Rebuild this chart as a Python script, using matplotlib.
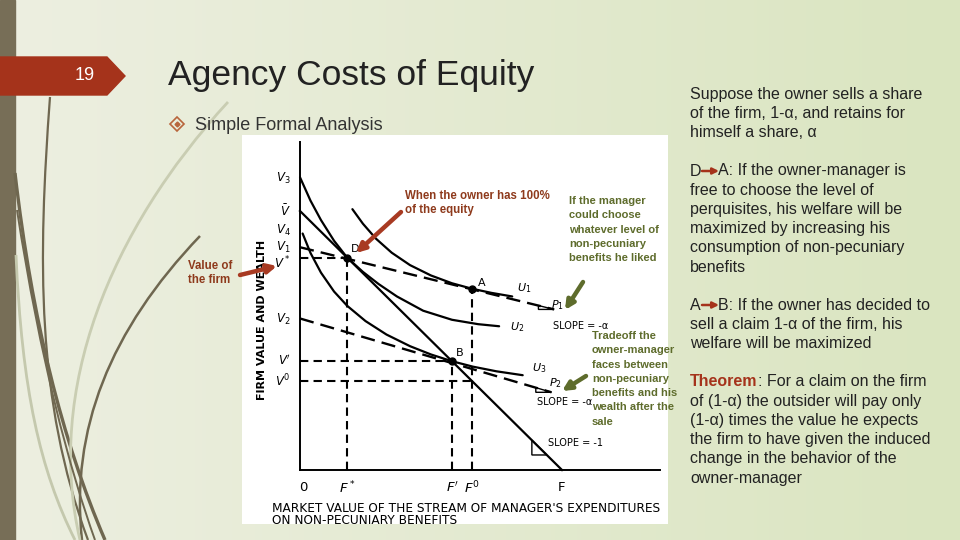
import numpy as np
import matplotlib.pyplot as plt
from matplotlib.path import Path
from matplotlib.patches import PathPatch, Polygon, Rectangle

plt.rcParams['font.family'] = ['Liberation Sans', 'DejaVu Sans']
plt.rcParams['mathtext.fontset'] = 'dejavusans'

# ---- chart data (x: perquisites F, y: firm value V) ----
v_labels = [r'$V_3$', r'$\bar{V}$', r'$V_4$', r'$V_1$', r'$V^*$', r'$V_2$', r"$V'$", r'$V^0$']
v_values = [112.7, 100, 91.5, 86, 82, 58, 42, 34.4]
f_labels = ['0', r'$F^*$', r"$F'$", r'$F^0$', 'F']
f_values = [0, 18, 58, 65.6, 100]

budget_x = [0, 100]          # V-bar to F, slope -1
budget_y = [100, 0]
p1_x = [0, 97]               # slope -alpha through D and A
p1_y = [86, 62]
p2_x = [0, 96]               # slope -alpha through B
p2_y = [58.5, 30]

u1_x = [20, 24, 29, 35, 42, 50, 58, 65.6, 73, 81]
u1_y = [100.7, 95.1, 89.3, 83.9, 79.1, 75.1, 72.1, 70, 68.4, 67.0]
u2_x = [0, 4, 8, 13, 18, 24, 30, 37, 47, 58, 68, 76]
u2_y = [113, 104, 96.5, 88.5, 82, 76.5, 71.8, 67, 61.5, 58, 56.3, 55.5]
u3_x = [1, 4, 8, 13, 18, 25, 33, 42, 50, 58, 66, 75, 85]
u3_y = [91.3, 83.8, 76.2, 68.9, 63.4, 57.5, 52.3, 47.8, 44.6, 42, 39.9, 38.1, 36.6]

point_names = ['D', 'A', 'B']
point_x = [18, 65.6, 58]
point_y = [82, 70, 42]

# ---- slide text ----
title = 'Agency Costs of Equity'
subtitle = 'Simple Formal Analysis'
para1 = ['Suppose the owner sells a share', 'of the firm, 1-\u03b1, and retains for',
         'himself a share, \u03b1']
para2 = ['A: If the owner-manager is', 'free to choose the level of',
         'perquisites, his welfare will be', 'maximized by increasing his',
         'consumption of non-pecuniary', 'benefits']
para3 = ['B: If the owner has decided to', 'sell a claim 1-\u03b1 of the firm, his',
         'welfare will be maximized']
para4 = [': For a claim on the firm', 'of (1-\u03b1) the outsider will pay only',
         '(1-\u03b1) times the value he expects', 'the firm to have given the induced',
         'change in the behavior of the', 'owner-manager']
note_owner = ['When the owner has 100%', 'of the equity']
note_value = ['Value of', 'the firm']
note_choose = ['If the manager', 'could choose', 'whatever level of',
               'non-pecuniary', 'benefits he liked']
note_trade = ['Tradeoff the', 'owner-manager', 'faces between', 'non-pecuniary',
              'benefits and his', 'wealth after the', 'sale']

RED = '#a5331b'
BROWN = '#8e3a1c'
GREEN = '#5e6c2c'
DARK = '#222222'
OLIVE = '#776e57'

fig = plt.figure(figsize=(9.6, 5.4), dpi=100)

# background axes in pixel units
bg = fig.add_axes([0, 0, 1, 1])
bg.set_xlim(0, 960)
bg.set_ylim(540, 0)
bg.axis('off')
t = np.linspace(0, 1, 256)
c0 = np.array([237, 239, 225]) / 255
c1 = np.array([218, 229, 192]) / 255
img = c0[None, :] * (1 - t[:, None]) + c1[None, :] * t[:, None]
bg.imshow(img[None, :, :], extent=(0, 960, 540, 0), aspect='auto', zorder=0)

bg.add_patch(Rectangle((0, 0), 15, 540, color=OLIVE, zorder=1))

# decorative swooshes on the left
swooshes = [
    ([(15, 173), (32, 320), (62, 440), (105, 540)], '#6f6750', 2.4),
    ([(50, 97), (38, 260), (36, 400), (88, 540)], '#6f6750', 1.6),
    ([(200, 236), (110, 330), (70, 430), (82, 540)], '#6f6750', 1.8),
    ([(228, 102), (110, 230), (45, 390), (80, 540)], '#c9cdb2', 2.0),
    ([(16, 255), (22, 390), (40, 470), (75, 540)], '#c4c8ad', 2.0),
    ([(17, 210), (40, 360), (70, 470), (95, 540)], '#6f6750', 1.4),
]
for pts, col, lw in swooshes:
    path = Path(pts, [Path.MOVETO, Path.CURVE4, Path.CURVE4, Path.CURVE4])
    bg.add_patch(PathPatch(path, fc='none', ec=col, lw=lw, zorder=2))

# slide number tab
bg.add_patch(Polygon([(0, 57), (107, 57), (125, 76), (107, 95), (0, 95)],
                     closed=True, color=RED, zorder=3))
bg.text(85, 76, '19', color='white', fontsize=13, ha='center', va='center', zorder=4)

bg.text(168, 76, title, fontsize=25.5, color=DARK, va='center', zorder=4)
bg.plot([177], [124], marker='D', ms=7, mfc='none', mec='#b8653c', mew=1.2, zorder=4)
bg.plot([177], [124], marker='D', ms=2.5, mfc='#b8653c', mec='#b8653c', zorder=4)
bg.text(195, 125, subtitle, fontsize=13, color='#333333', va='center', zorder=4)

# white panel that holds the scanned figure
bg.add_patch(Rectangle((242, 135), 426, 389, fc='white', ec='none', zorder=3))

# ---- chart axes over the panel ----
ax = fig.add_axes([242 / 960, 16 / 540, 426 / 960, 389 / 540])
ax.set_xlim(-22.14, 140.46)
ax.set_ylim(-20.85, 129.34)
ax.axis('off')

y_axis_top = 126.6
x_axis_end = 137.4
ax.plot([0, 0], [0, y_axis_top], color='black', lw=1.4)
ax.plot([0, x_axis_end], [0, 0], color='black', lw=1.4)

ax.plot(budget_x, budget_y, color='black', lw=1.6)
ax.plot(p1_x, p1_y, color='black', lw=1.7, ls=(0, (6, 3)))
ax.plot(p2_x, p2_y, color='black', lw=1.7, ls=(0, (6, 3)))
for ux, uy in [(u1_x, u1_y), (u2_x, u2_y), (u3_x, u3_y)]:
    ax.plot(ux, uy, color='black', lw=1.6, solid_capstyle='round')

# dashed guides from D, A, B to the axes
dash = dict(color='black', lw=1.5, ls=(0, (4, 2.5)))
ax.plot([0, point_x[0]], [point_y[0], point_y[0]], **dash)
ax.plot([point_x[0], point_x[0]], [0, point_y[0]], **dash)
ax.plot([0, point_x[2]], [point_y[2], point_y[2]], **dash)
ax.plot([point_x[2], point_x[2]], [0, point_y[2]], **dash)
ax.plot([0, f_values[3]], [v_values[7], v_values[7]], **dash)
ax.plot([f_values[3], f_values[3]], [0, point_y[1]], **dash)

ax.plot(point_x, point_y, 'o', color='black', ms=5)

# slope triangles
tri_p1 = [(91, 63.5), (91, 62), (97, 62)]
tri_p2 = [(90, 31.8), (90, 30), (96, 30)]
tri_b = [(88.5, 11.5), (88.5, 5.8), (94.2, 5.8)]
for tri in [tri_p1, tri_p2, tri_b]:
    ax.add_patch(Polygon(tri, closed=True, fc='none', ec='black', lw=1.0))

lab = dict(fontsize=8, color='black', family='DejaVu Sans', va='center')
for name, x, y in zip(point_names, point_x, point_y):
    off = {'D': (1.6, 3.4), 'A': (2.3, 2.2), 'B': (1.5, 3.2)}[name]
    ax.text(x + off[0], y + off[1], name, **lab)
ax.text(82.8, 70.3, r'$U_1$', **lab)
ax.text(80.2, 55.2, r'$U_2$', **lab)
ax.text(88.5, 39.4, r'$U_3$', **lab)
ax.text(95.8, 63.7, r'$P_1$', **lab)
ax.text(95.0, 33.6, r'$P_2$', **lab)
ax.text(96.6, 55.6, 'SLOPE = -\u03b1', fontsize=7, family='DejaVu Sans', va='center')
ax.text(90.5, 26.3, 'SLOPE = -\u03b1', fontsize=7, family='DejaVu Sans', va='center')
ax.text(94.7, 10.4, 'SLOPE = -1', fontsize=7, family='DejaVu Sans', va='center')

for name, v in zip(v_labels, v_values):
    shift = -2.0 if name == r'$V^*$' else (1.0 if name == r'$V_4$' else 0)
    ax.text(-3.5, v + shift, name, ha='right', va='center', fontsize=8.5,
            family='DejaVu Sans', zorder=5)
for name, f in zip(f_labels, f_values):
    ax.text(f + (1.1 if name == '0' else 0), -6.9, name, ha='center', va='center',
            fontsize=9.5, family='DejaVu Sans')

ax.text(-14.5, 58, 'FIRM VALUE AND WEALTH', rotation=90, ha='center', va='center',
        fontsize=8, family='DejaVu Sans', fontweight='bold')
ax.text(-10.7, -14.9, "MARKET VALUE OF THE STREAM OF MANAGER'S EXPENDITURES",
        fontsize=8.7, family='DejaVu Sans', va='center')
ax.text(-10.7, -19.6, 'ON NON-PECUNIARY BENEFITS', fontsize=8.7,
        family='DejaVu Sans', va='center')

# ---- overlay: annotations and right-hand text ----
ov = fig.add_axes([0, 0, 1, 1])
ov.set_xlim(0, 960)
ov.set_ylim(540, 0)
ov.axis('off')

for i, line in enumerate(note_owner):
    ov.text(405, 196 + 14 * i, line, fontsize=8.3, color=BROWN, fontweight='bold', va='center')
for i, line in enumerate(note_value):
    ov.text(188, 266 + 14 * i, line, fontsize=8.3, color=BROWN, fontweight='bold', va='center')
for i, line in enumerate(note_choose):
    ov.text(569, 201 + 14.3 * i, line, fontsize=8, color=GREEN, fontweight='bold', va='center')
for i, line in enumerate(note_trade):
    ov.text(592, 336 + 14.3 * i, line, fontsize=8, color=GREEN, fontweight='bold', va='center')

arrow = dict(arrowstyle='-|>', lw=3.2, mutation_scale=13, shrinkA=0, shrinkB=0)
ov.annotate('', xy=(356, 253), xytext=(401, 212), arrowprops=dict(color='#a83a22', **arrow))
ov.annotate('', xy=(277, 266), xytext=(240, 275), arrowprops=dict(color='#a83a22', **arrow))
ov.annotate('', xy=(565, 310), xytext=(583, 282), arrowprops=dict(color=GREEN, **arrow))
ov.annotate('', xy=(562, 391), xytext=(586, 376), arrowprops=dict(color=GREEN, **arrow))

body = dict(fontsize=11.5, color=DARK, va='center')
for i, line in enumerate(para1):
    ov.text(690, 94 + 19.2 * i, line, **body)
ov.text(690, 171, 'D', **body)
ov.annotate('', xy=(719, 171), xytext=(702, 171),
            arrowprops=dict(arrowstyle='-|>', color=RED, lw=1.8, mutation_scale=9,
                            shrinkA=0, shrinkB=0))
for i, line in enumerate(para2):
    ov.text(718 if i == 0 else 690, 171 + 19.2 * i, line, **body)
ov.text(690, 305, 'A', **body)
ov.annotate('', xy=(719, 305), xytext=(702, 305),
            arrowprops=dict(arrowstyle='-|>', color=RED, lw=1.8, mutation_scale=9,
                            shrinkA=0, shrinkB=0))
for i, line in enumerate(para3):
    ov.text(718 if i == 0 else 690, 305 + 19.2 * i, line, **body)

th = ov.text(690, 382, 'Theorem', fontsize=11.5, color=RED, fontweight='bold', va='center')
fig.canvas.draw()
bb = th.get_window_extent(fig.canvas.get_renderer())
th_end = bb.x1
for i, line in enumerate(para4):
    ov.text(th_end if i == 0 else 690, 382 + 19.2 * i, line, **body)

fig.savefig('out.png', dpi=100)
